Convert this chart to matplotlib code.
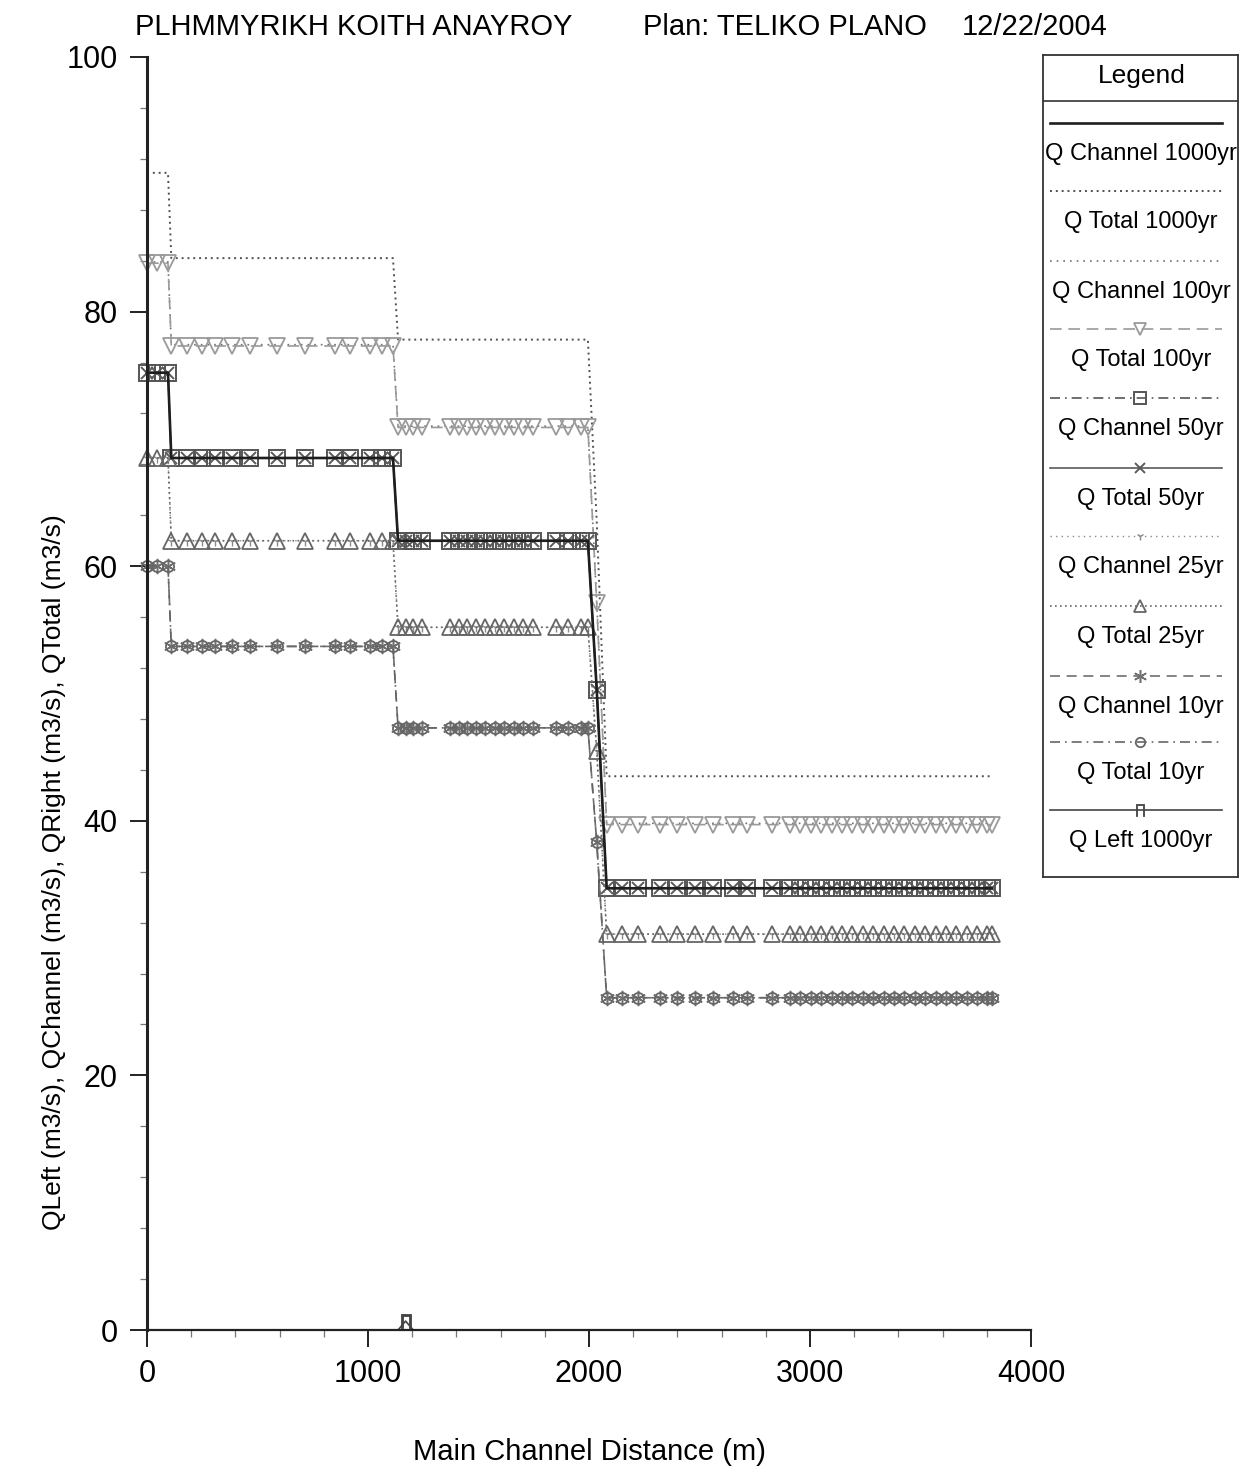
import numpy as np
import matplotlib.pyplot as plt
from matplotlib.ticker import MultipleLocator

plt.rcParams['font.family'] = ['Liberation Sans', 'DejaVu Sans']

# river stations (m), grouped by the reaches between the drops
reach_1 = [0, 45, 95]
reach_2 = [110, 181, 249, 308, 385, 466, 588, 715, 851, 919, 1009, 1063, 1113]
reach_3 = [1136, 1170, 1205, 1245, 1370, 1410, 1450, 1490, 1530, 1575, 1615,
           1660, 1700, 1745, 1850, 1905, 1965, 1995]
reach_4 = [2035]
reach_5 = [2080, 2149, 2222, 2321, 2398, 2480, 2561, 2652, 2715, 2828, 2910,
           2957, 3004, 3051, 3098, 3145, 3192, 3239, 3286, 3333, 3380, 3427,
           3474, 3521, 3568, 3615, 3662, 3709, 3756, 3803, 3822]

# discharge in each reach (m3/s)
q_channel_1000 = [75.2, 68.5, 62.0, 50.3, 34.7]
q_total_1000 = [90.9, 84.2, 77.8, 63.5, 43.5]
q_channel_100 = [83.9, 77.4, 71.0, 57.2, 39.8]
q_total_100 = [83.8, 77.3, 70.9, 57.1, 39.7]
q_channel_50 = [75.2, 68.5, 62.0, 50.3, 34.7]
q_total_50 = [75.2, 68.5, 62.0, 50.3, 34.7]
q_channel_25 = [68.5, 62.0, 55.2, 45.5, 31.1]
q_total_25 = [68.5, 62.0, 55.2, 45.5, 31.1]
q_channel_10 = [60.0, 53.7, 47.3, 38.3, 26.1]
q_total_10 = [60.0, 53.7, 47.3, 38.3, 26.1]
q_left_1000 = [0.0, 0.0, 0.0, 0.0, 0.0]
q_left_spill_station = 1170
q_left_spill_value = 0.7

title_left = 'PLHMMYRIKH KOITH ANAYROY'
title_plan = 'Plan: TELIKO PLANO'
title_date = '12/22/2004'

reaches = [reach_1, reach_2, reach_3, reach_4, reach_5]
stations = np.concatenate(reaches)
reach_idx = np.repeat(np.arange(len(reaches)), [len(r) for r in reaches])


def expand(levels):
    return np.asarray(levels, dtype=float)[reach_idx]


q_left = expand(q_left_1000)
spill_i = int(np.where(stations == q_left_spill_station)[0][0])
q_left[spill_i] = q_left_spill_value

series = [
    ('Q Channel 1000yr', expand(q_channel_1000),
     dict(color='#1e1e1e', lw=1.9, ls='-', zorder=6)),
    ('Q Total 1000yr', expand(q_total_1000),
     dict(color='#505050', lw=1.4, ls=(0, (1, 2)))),
    ('Q Channel 100yr', expand(q_channel_100),
     dict(color='#707070', lw=1.2, ls=(0, (1, 3)))),
    ('Q Total 100yr', expand(q_total_100),
     dict(color='#9a9a9a', lw=1.2, ls=(0, (7, 4)), marker='v', ms=11,
          mfc='none', mew=1.3)),
    ('Q Channel 50yr', expand(q_channel_50),
     dict(color='#555555', lw=1.2, ls=(0, (6, 3, 1, 3)), marker='s', ms=11,
          mfc='none', mew=1.4)),
    ('Q Total 50yr', expand(q_total_50),
     dict(color='#5a5a5a', lw=1.2, ls='-', marker='x', ms=9, mew=1.4)),
    ('Q Channel 25yr', expand(q_channel_25),
     dict(color='#8a8a8a', lw=1.0, ls=(0, (1, 3)), marker='1', ms=7, mew=1.0)),
    ('Q Total 25yr', expand(q_total_25),
     dict(color='#666666', lw=1.2, ls=(0, (1, 2)), marker='^', ms=11,
          mfc='none', mew=1.3)),
    ('Q Channel 10yr', expand(q_channel_10),
     dict(color='#707070', lw=1.2, ls=(0, (6, 4)), marker=(6, 2, 0), ms=11,
          mew=1.1)),
    ('Q Total 10yr', expand(q_total_10),
     dict(color='#666666', lw=1.2, ls=(0, (6, 3, 1, 3)), marker='o', ms=8,
          mfc='none', mew=1.3)),
    ('Q Left 1000yr', q_left,
     dict(color='#444444', lw=1.2, ls='-', marker='$\\Pi$', ms=10,
          mew=0.6, markevery=[spill_i])),
]

fig = plt.figure(figsize=(12.43, 14.73), dpi=100)
ax = fig.add_axes([147 / 1243, 1 - 1330 / 1473, 884 / 1243, 1273 / 1473])

for name, y, st in series:
    ax.plot(stations, y, label=name, clip_on=False, **st)

ax.set_xlim(0, 4000)
ax.set_ylim(0, 100)
ax.spines['top'].set_visible(False)
ax.spines['right'].set_visible(False)
ax.spines['left'].set_linewidth(2.2)
ax.spines['left'].set_color('#222222')
ax.spines['bottom'].set_linewidth(1.6)
ax.spines['bottom'].set_color('#222222')

ax.xaxis.set_major_locator(MultipleLocator(1000))
ax.xaxis.set_minor_locator(MultipleLocator(200))
ax.yaxis.set_major_locator(MultipleLocator(20))
ax.yaxis.set_minor_locator(MultipleLocator(4))
ax.tick_params(which='major', length=12, width=1.4, color='#222222',
               labelsize=22, pad=9)
ax.tick_params(which='minor', length=5, width=0.9, color='#777777')

ax.set_xlabel('Main Channel Distance (m)', fontsize=21)
ax.xaxis.set_label_coords(0.5, -0.085)
ax.set_ylabel('QLeft (m3/s), QChannel (m3/s), QRight (m3/s), QTotal (m3/s)',
              fontsize=19)
ax.yaxis.set_label_coords(-0.092, 0.36)

fig.text(135 / 1243, 1 - 27 / 1473, title_left, fontsize=21, va='center')
fig.text(643 / 1243, 1 - 27 / 1473, title_plan, fontsize=21, va='center')
fig.text(962 / 1243, 1 - 27 / 1473, title_date, fontsize=21, va='center')

# legend box, drawn in pixel units of the picture
lg = fig.add_axes([1043 / 1243, 1 - 877 / 1473, 195 / 1243, 822 / 1473])
lg.set_xlim(1043, 1238)
lg.set_ylim(877, 55)
lg.set_xticks([])
lg.set_yticks([])
for s in lg.spines.values():
    s.set_linewidth(1.3)
    s.set_color('#333333')
lg.text(1142, 76, 'Legend', fontsize=19, ha='center', va='center')
lg.plot([1043, 1238], [101, 101], color='#333333', lw=1.2)

line_y = [123, 191, 261, 329, 398, 468, 536, 606, 676, 742, 810]
for k, (name, y, st) in enumerate(series):
    st = dict(st)
    st.pop('markevery', None)
    st.pop('zorder', None)
    ly = line_y[k]
    lg.plot([1050, 1222], [ly, ly], **{kk: v for kk, v in st.items()
                                      if kk not in ('marker', 'ms', 'mfc', 'mew')})
    if 'marker' in st:
        lg.plot([1140], [ly], ls='none', color=st['color'], marker=st['marker'],
                ms=st.get('ms', 8) * 0.85, mfc=st.get('mfc', st['color']),
                mew=st.get('mew', 1.0))
    lg.text(1141, ly + 31, name, fontsize=17, ha='center', va='center',
            clip_on=True)

fig.savefig('out.png', dpi=100)
